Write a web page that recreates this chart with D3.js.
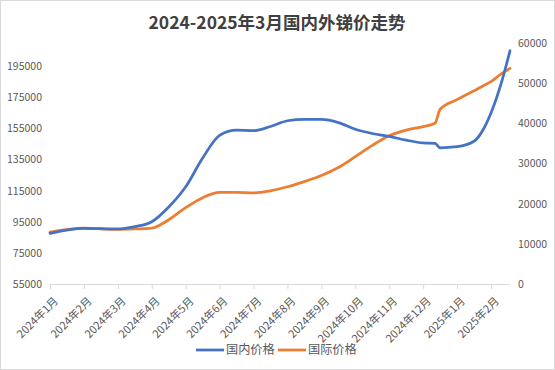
<!DOCTYPE html>
<html>
<head>
<meta charset="utf-8">
<script src="https://cdn.jsdelivr.net/npm/d3@7"></script>
<style>
  html, body { margin: 0; padding: 0; background: #fff; }
  text { font-family: "Noto Sans CJK SC", "Noto Sans", sans-serif; }
</style>
</head>
<body>
<div id="chart"></div>
<script>
// month index (0 = 2024年1月)
const monthPos = [0, 1, 2, 2.5, 3, 3.5, 4, 4.5, 5, 5.5, 6, 6.5, 7, 7.5, 8, 8.5, 9, 9.5, 10, 10.5, 11, 11.35, 11.5, 12, 12.5, 12.8, 13, 13.3, 13.56];
const domestic = [87600, 90800, 90400, 91900, 95000, 104500, 117500, 136000, 150600, 154000, 153600, 156300, 160000, 160900, 160800, 158800, 154500, 151800, 149900, 147500, 145700, 145400, 142600, 143300, 146800, 155500, 165000, 184000, 205000];
const intl = [12900, 13900, 13600, 13700, 13900, 16000, 19000, 21500, 22800, 22800, 22700, 23200, 24200, 25500, 27000, 29000, 31700, 34500, 36900, 38300, 39200, 40000, 43500, 45900, 48100, 49500, 50400, 52300, 53700];
const monthLabels = ["2024年1月", "2024年2月", "2024年3月", "2024年4月", "2024年5月", "2024年6月", "2024年7月", "2024年8月", "2024年9月", "2024年10月", "2024年11月", "2024年12月", "2025年1月", "2025年2月"];
const leftTicks = [55000, 75000, 95000, 115000, 135000, 155000, 175000, 195000];
const rightTicks = [0, 10000, 20000, 30000, 40000, 50000, 60000];
const seriesNames = ["国内价格", "国际价格"];
const colors = ["#4472C4", "#ED7D31"];

const W = 555, H = 370;
const plot = { left: 50, right: 510, top: 43, bottom: 284 };

const svg = d3.select("#chart").append("svg")
  .attr("width", W)
  .attr("height", H);

svg.append("rect")
  .attr("x", 0.5).attr("y", 0.5)
  .attr("width", W - 1).attr("height", H - 1)
  .attr("fill", "#fff")
  .attr("stroke", "#d9d9d9");

const x = d3.scaleLinear().domain([0, 13.56]).range([plot.left, plot.right]);
const yL = d3.scaleLinear().domain([55000, 210000]).range([plot.bottom, plot.top]);
const yR = d3.scaleLinear().domain([0, 60000]).range([plot.bottom, plot.top]);

// title
svg.append("text")
  .attr("x", 277).attr("y", 29)
  .attr("text-anchor", "middle")
  .attr("font-size", 17.5)
  .attr("font-weight", "bold")
  .attr("fill", "#404040")
  .text("2024-2025年3月国内外锑价走势");

// bottom axis
const xAxis = svg.append("g")
  .attr("transform", `translate(0,${plot.bottom})`)
  .call(d3.axisBottom(x).tickValues(d3.range(monthLabels.length)).tickSize(5).tickFormat(""));
xAxis.select(".domain").attr("stroke", "#d9d9d9").attr("d", `M${plot.left},0.5H${plot.right}`);
xAxis.selectAll(".tick line").attr("stroke", "#d9d9d9");

svg.append("g").selectAll("text")
  .data(monthLabels)
  .join("text")
  .attr("transform", (d, i) => `translate(${x(i) + 6},${plot.bottom + 15}) rotate(-45)`)
  .attr("text-anchor", "end")
  .attr("dy", "0.35em")
  .attr("font-size", 11)
  .attr("fill", "#595959")
  .text(d => d);

// left axis
const leftAxis = svg.append("g")
  .attr("transform", `translate(${plot.left - 8},0)`)
  .call(d3.axisLeft(yL).tickValues(leftTicks).tickSize(0).tickPadding(0).tickFormat(d3.format("d")));
leftAxis.select(".domain").remove();
leftAxis.selectAll("text").attr("font-size", 10.5).attr("fill", "#595959");

// right axis
const rightAxis = svg.append("g")
  .attr("transform", `translate(${plot.right + 8},0)`)
  .call(d3.axisRight(yR).tickValues(rightTicks).tickSize(0).tickPadding(0).tickFormat(d3.format("d")));
rightAxis.select(".domain").remove();
rightAxis.selectAll("text").attr("font-size", 10.5).attr("fill", "#595959");

// lines
const lineL = d3.line().x((d, i) => x(monthPos[i])).y(d => yL(d)).curve(d3.curveMonotoneX);
const lineR = d3.line().x((d, i) => x(monthPos[i])).y(d => yR(d)).curve(d3.curveMonotoneX);

svg.append("path")
  .attr("d", lineR(intl))
  .attr("fill", "none")
  .attr("stroke", colors[1])
  .attr("stroke-width", 2.75)
  .attr("stroke-linecap", "round");

svg.append("path")
  .attr("d", lineL(domestic))
  .attr("fill", "none")
  .attr("stroke", colors[0])
  .attr("stroke-width", 2.75)
  .attr("stroke-linecap", "round");

// legend
const legendX = [196, 278];
const legend = svg.append("g");
seriesNames.forEach((name, i) => {
  legend.append("line")
    .attr("x1", legendX[i]).attr("x2", legendX[i] + 28)
    .attr("y1", 350).attr("y2", 350)
    .attr("stroke", colors[i])
    .attr("stroke-width", 2.75);
  legend.append("text")
    .attr("x", legendX[i] + 30).attr("y", 350)
    .attr("dy", "0.35em")
    .attr("font-size", 12.2)
    .attr("fill", "#595959")
    .text(name);
});
</script>
</body>
</html>
